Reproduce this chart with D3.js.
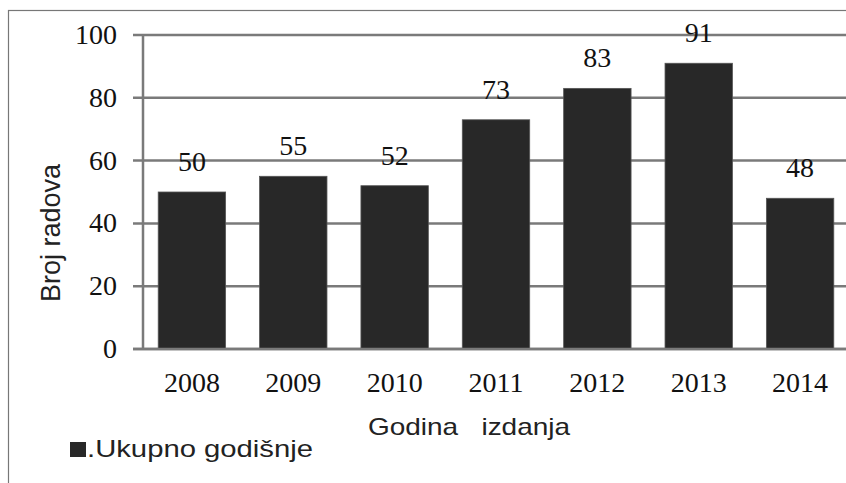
<!DOCTYPE html>
<html>
<head>
<meta charset="utf-8">
<style>
    body { margin: 0; background: #fff; }
    svg { display: block; }
    .tick-label { font-family: 'Liberation Serif', 'Times New Roman', serif; font-size: 28px; fill: #111; }
    .axis-title { font-family: 'Liberation Sans', Arial, sans-serif; fill: #222; }
</style>
</head>
<body>
<svg width="846" height="483"></svg>
<script src="https://d3js.org/d3.v7.min.js"></script>
<script>
let years = ["2008", "2009", "2010", "2011", "2012", "2013", "2014"]
let counts = [50, 55, 52, 73, 83, 91, 48]
let yTicks = [0, 20, 40, 60, 80, 100]

let svg = d3.select("svg")
let gridColor = "#7a7a7a"
let barColor = "#282828"

// outer frame, cut off on the right and bottom like the picture
svg.append("rect")
    .attr("x", 8.5).attr("y", 10.5)
    .attr("width", 860).attr("height", 500)
    .attr("fill", "none")
    .attr("stroke", "#777")
    .attr("stroke-width", 1.2)

let x = d3.scaleBand()
    .domain(years)
    .range([143, 849])
    .paddingInner(0.335)
    .paddingOuter(0.15)

let y = d3.scaleLinear()
    .domain([0, 100])
    .range([349, 35])

// gridlines + tick marks
svg.append("g")
    .selectAll("line")
    .data(yTicks)
    .join("line")
    .attr("x1", 133)
    .attr("x2", 846)
    .attr("y1", d => y(d))
    .attr("y2", d => y(d))
    .attr("stroke", gridColor)
    .attr("stroke-width", 2.5)

// y axis line
svg.append("line")
    .attr("x1", 143).attr("x2", 143)
    .attr("y1", y(100)).attr("y2", y(0))
    .attr("stroke", gridColor)
    .attr("stroke-width", 2.5)

// y tick labels
svg.append("g")
    .selectAll("text")
    .data(yTicks)
    .join("text")
    .attr("class", "tick-label")
    .attr("x", 117)
    .attr("y", d => y(d) + 9)
    .attr("text-anchor", "end")
    .text(d => d)

// bars
svg.append("g")
    .selectAll("rect")
    .data(counts)
    .join("rect")
    .attr("x", (d, i) => x(years[i]))
    .attr("y", d => y(d))
    .attr("width", x.bandwidth())
    .attr("height", d => y(0) - y(d))
    .attr("fill", barColor)
    .attr("stroke", "#555")
    .attr("stroke-width", 0.8)

// redraw the baseline over the bars
svg.append("line")
    .attr("x1", 133).attr("x2", 846)
    .attr("y1", y(0)).attr("y2", y(0))
    .attr("stroke", gridColor)
    .attr("stroke-width", 2.5)

// value labels
svg.append("g")
    .selectAll("text")
    .data(counts)
    .join("text")
    .attr("class", "tick-label")
    .attr("x", (d, i) => x(years[i]) + x.bandwidth() / 2)
    .attr("y", d => y(d) - 21)
    .attr("text-anchor", "middle")
    .text(d => d)

// x tick labels
svg.append("g")
    .selectAll("text")
    .data(years)
    .join("text")
    .attr("class", "tick-label")
    .attr("x", d => x(d) + x.bandwidth() / 2)
    .attr("y", 392)
    .attr("text-anchor", "middle")
    .text(d => d)

// axis titles
svg.append("text")
    .attr("class", "axis-title")
    .attr("transform", "translate(60,233) rotate(-90)")
    .attr("text-anchor", "middle")
    .style("font-size", "27px")
    .text("Broj radova")

svg.append("text")
    .attr("class", "axis-title")
    .attr("x", 368)
    .attr("y", 435)
    .style("font-size", "24px")
    .style("white-space", "pre")
    .attr("textLength", 202)
    .attr("lengthAdjust", "spacingAndGlyphs")
    .text("Godina   izdanja")

// legend
svg.append("rect")
    .attr("x", 70).attr("y", 442)
    .attr("width", 16).attr("height", 15)
    .attr("fill", barColor)

svg.append("text")
    .attr("class", "axis-title")
    .attr("x", 87)
    .attr("y", 457)
    .style("font-size", "24px")
    .attr("textLength", 226)
    .attr("lengthAdjust", "spacingAndGlyphs")
    .text(".Ukupno godišnje")
</script>
</body>
</html>
